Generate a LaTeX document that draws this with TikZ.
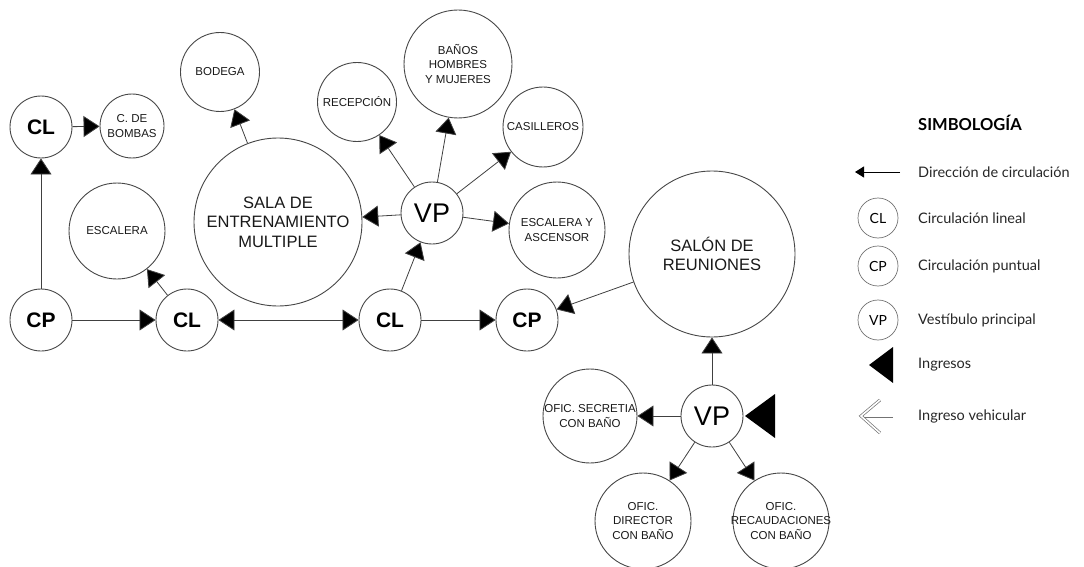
\documentclass[tikz,border=0pt]{standalone}
\usepackage{fontspec}
\setmainfont{Liberation Sans}
\newfontfamily\legfont{Lato}
\usetikzlibrary{arrows.meta}
\tikzset{
  room/.style={circle, draw=black!72, line width=0.9pt, inner sep=0pt, fill=white},
  lbl/.style={font=\fontsize{11.5}{14.5}\selectfont, align=center, inner sep=0pt, text=black!90},
  big/.style={font=\fontsize{16.5}{19.5}\selectfont, align=center, inner sep=0pt, text=black!90},
  circn/.style={room, minimum size=62pt, font=\fontsize{21}{21}\selectfont\bfseries},
  vpn/.style={room, minimum size=62pt, font=\fontsize{27}{27}\selectfont},
  arr/.style={-{Triangle[length=16pt,width=21pt,fill=black]}, line width=0.8pt, draw=black!75},
  darr/.style={{Triangle[length=16pt,width=21pt,fill=black]}-{Triangle[length=16pt,width=21pt,fill=black]}, line width=0.8pt, draw=black!75},
  legc/.style={circle, draw=black!55, line width=0.7pt, minimum size=40pt, inner sep=0pt, font=\legfont\fontsize{14}{14}\selectfont},
  legt/.style={anchor=west, inner sep=0pt, font=\legfont\fontsize{14.5}{16}\selectfont, text=black!85},
}
\begin{document}
\begin{tikzpicture}[x=1pt,y=-1pt]
\useasboundingbox (0,0) rectangle (1084,567);
% left group
\node[circn] (cl1) at (41,127) {CL};
\node[room, minimum size=64pt, label={[lbl]center:C. DE\\BOMBAS}] (bombas) at (132,126) {};
\node[circn] (cp1) at (41,320) {CP};
\node[room, minimum size=96pt, label={[lbl]center:ESCALERA}] (esc) at (117,231) {};
\node[circn] (cl2) at (187,320) {CL};
\node[room, minimum size=168pt, label={[big]center:SALA DE\\ENTRENAMIENTO\\MULTIPLE}] (sala) at (278,222) {};
\node[room, minimum size=79pt, label={[lbl]center:BODEGA}] (bodega) at (220,72) {};
\node[circn] (cl3) at (390,320) {CL};
\node[vpn] (vp1) at (432,213) {VP};
\node[room, minimum size=79pt, label={[lbl]center:RECEPCIÓN}] (recep) at (357,102) {};
\node[room, minimum size=108pt, label={[lbl]center:BAÑOS\\HOMBRES\\Y MUJERES}] (banos) at (458,64) {};
\node[room, minimum size=80pt, label={[lbl]center:CASILLEROS}] (casil) at (543,127) {};
\node[room, minimum size=96pt, label={[lbl]center:ESCALERA Y\\ASCENSOR}] (escasc) at (557,230) {};
\node[circn] (cp2) at (527,320) {CP};
\node[room, minimum size=166pt, label={[big]center:SALÓN DE\\REUNIONES}] (salon) at (712,254) {};
\node[vpn] (vp2) at (712,416) {VP};
\node[room, minimum size=94pt, label={[lbl]center:OFIC. SECRETIA\\CON BAÑO}] (secre) at (590,416) {};
\node[room, minimum size=96pt, label={[lbl]center:OFIC.\\DIRECTOR\\CON BAÑO}] (direc) at (643,521) {};
\node[room, minimum size=96pt, label={[lbl]center:OFIC.\\RECAUDACIONES\\CON BAÑO}] (recau) at (781,521) {};
% connectors
\draw[arr] (cp1) -- (cl1);
\draw[arr] (cl1) -- (bombas);
\draw[arr] (cp1) -- (cl2);
\draw[arr] (cl2) -- (esc);
\draw[darr] (cl2) -- (cl3);
\draw[arr] (sala) -- (bodega);
\draw[arr] (cl3) -- (vp1);
\draw[arr] (cl3) -- (cp2);
\draw[arr] (vp1) -- (sala);
\draw[arr] (vp1) -- (recep);
\draw[arr] (vp1) -- (banos);
\draw[arr] (vp1) -- (casil);
\draw[arr] (vp1) -- (escasc);
\draw[arr] (salon) -- (cp2);
\draw[arr] (vp2) -- (salon);
\draw[arr] (vp2) -- (secre);
\draw[arr] (vp2) -- (direc);
\draw[arr] (vp2) -- (recau);
% ingress
\coordinate (ing) at (745,416);
\fill[black] (ing) -- ++(30,-22) -- ++(0,44) -- cycle;
% legend
\node[anchor=west, inner sep=0pt, font=\legfont\bfseries\fontsize{16.5}{18}\selectfont] (simb) at (918,123) {SIMBOLOGÍA};
\coordinate (la1) at (900,172);
\coordinate (la2) at (855,172);
\draw[-{Triangle[length=9pt,width=11pt]}, line width=1pt] (la1) -- (la2);
\node[legt] (t1) at (918,172) {Dirección de circulación};
\node[legc] (lcl) at (878,218) {CL};
\node[legt] (t2) at (918,218) {Circulación lineal};
\node[legc] (lcp) at (878,266) {CP};
\node[legt] (t3) at (918,266) {Circulación puntual};
\node[legc] (lvp) at (878,320) {VP};
\node[legt] (t4) at (918,320) {Vestíbulo principal};
\coordinate (ling) at (869,365);
\fill[black] (ling) -- ++(24,-18) -- ++(0,36) -- cycle;
\node[legt] (t5) at (918,365) {Ingresos};
\coordinate (lv1) at (893,416);
\coordinate (lv2) at (861,416);
\draw[double=white, double distance=1.6pt, draw=black!55, line width=0.7pt] (lv1) -- (lv2);
\draw[double=white, double distance=1.6pt, draw=black!55, line width=0.7pt, line join=miter] (880,400) -- (lv2) -- (880,433);
\node[legt] (t6) at (918,416) {Ingreso vehicular};
\end{tikzpicture}
\end{document}
